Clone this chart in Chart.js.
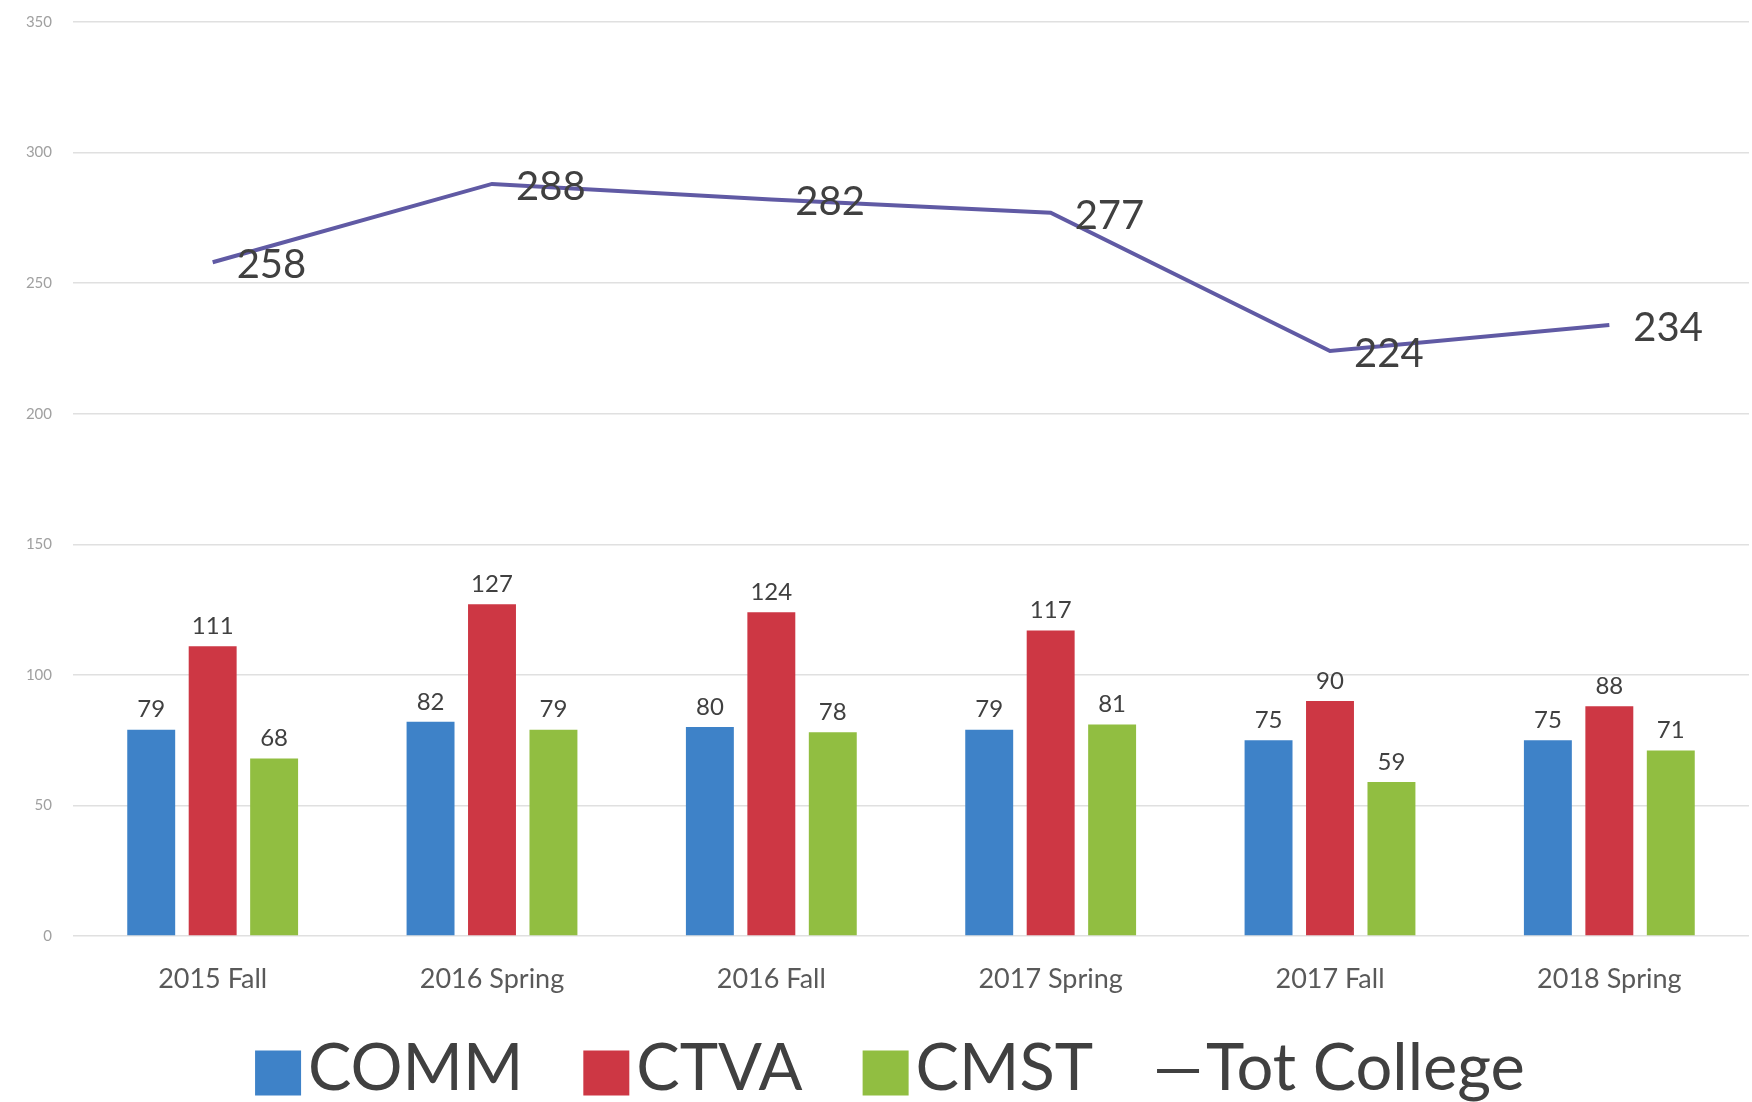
<!DOCTYPE html>
<html>
<head>
<meta charset="utf-8">
<script src="https://cdn.jsdelivr.net/npm/chart.js@4.4.0/dist/chart.umd.min.js"></script>
<style>
  html, body { margin: 0; padding: 0; background: #fff; }
  canvas { display: block; }
</style>
</head>
<body>
<canvas id="myChart" width="1752" height="1102"></canvas>
<script>
var terms = ['2015 Fall', '2016 Spring', '2016 Fall', '2017 Spring', '2017 Fall', '2018 Spring'];
var comm = [79, 82, 80, 79, 75, 75];
var ctva = [111, 127, 124, 117, 90, 88];
var cmst = [68, 79, 78, 81, 59, 71];
var totCollege = [258, 288, 282, 277, 224, 234];
var yTicks = [0, 50, 100, 150, 200, 250, 300, 350];

const FONT = 'Lato, "Open Sans", sans-serif';
const TEXT = '#404040';

// value labels: small ones over the bars, big ones right of the line points
const valueLabels = {
    id: 'valueLabels',
    afterDatasetsDraw(chart) {
        const ctx = chart.ctx;
        ctx.save();
        ctx.fillStyle = TEXT;
        chart.data.datasets.forEach((ds, i) => {
            const meta = chart.getDatasetMeta(i);
            meta.data.forEach((el, j) => {
                const v = ds.data[j];
                if (ds.type === 'line') {
                    ctx.font = '40px ' + FONT;
                    ctx.textAlign = 'left';
                    ctx.textBaseline = 'middle';
                    ctx.fillText(v, el.x + 24, el.y + 3);
                } else {
                    ctx.font = '24px ' + FONT;
                    ctx.textAlign = 'center';
                    ctx.textBaseline = 'bottom';
                    ctx.fillText(v, el.x, el.y - 8);
                }
            });
        });
        ctx.restore();
    }
};

// legend drawn under the axis, boxes tight against the text
const bigLegend = {
    id: 'bigLegend',
    afterDraw(chart) {
        const ctx = chart.ctx;
        const items = chart.data.datasets.map(ds => ({
            text: ds.label,
            color: ds.type === 'line' ? ds.borderColor : ds.backgroundColor,
            line: ds.type === 'line'
        }));
        ctx.save();
        ctx.font = '65px ' + FONT;
        const boxW = 46, boxH = 45, gapIn = 7, gapOut = 60;
        let total = 0;
        items.forEach((it, k) => {
            it.w = boxW + gapIn + ctx.measureText(it.text).width;
            total += it.w + (k ? gapOut : 0);
        });
        let x = chart.width / 2 + 14 - total / 2;
        const y = 1069;
        items.forEach(it => {
            if (it.line) {
                ctx.strokeStyle = '#404040';
                ctx.lineWidth = 4;
                ctx.beginPath();
                ctx.moveTo(x + 4, y + 2);
                ctx.lineTo(x + boxW, y + 2);
                ctx.stroke();
            } else {
                ctx.fillStyle = it.color;
                ctx.fillRect(x, y - boxH / 2 + 4, boxW, boxH);
            }
            ctx.fillStyle = TEXT;
            ctx.textAlign = 'left';
            ctx.textBaseline = 'middle';
            ctx.fillText(it.text, x + boxW + gapIn, y);
            x += it.w + gapOut;
        });
        ctx.restore();
    }
};

const data = {
    labels: terms,
    datasets: [{
        type: 'bar',
        label: 'COMM',
        data: comm,
        backgroundColor: 'rgb(62, 130, 200)',
        order: 1
    }, {
        type: 'bar',
        label: 'CTVA',
        data: ctva,
        backgroundColor: 'rgb(205, 55, 68)',
        order: 1
    }, {
        type: 'bar',
        label: 'CMST',
        data: cmst,
        backgroundColor: 'rgb(145, 190, 65)',
        order: 1
    }, {
        type: 'line',
        label: 'Tot College',
        data: totCollege,
        borderColor: 'rgb(96, 90, 164)',
        backgroundColor: 'rgb(96, 90, 164)',
        borderWidth: 4,
        pointRadius: 0,
        tension: 0,
        order: 0
    }]
};

const config = {
    type: 'bar',
    data: data,
    options: {
        responsive: false,
        animation: false,
        devicePixelRatio: 1,
        layout: {
            padding: { top: 22, right: 3, bottom: 86, left: 0 }
        },
        datasets: {
            bar: {
                categoryPercentage: 0.66,
                barPercentage: 0.78
            }
        },
        plugins: {
            legend: { display: false },
            tooltip: { enabled: false },
            title: { display: false }
        },
        scales: {
            x: {
                grid: { display: false, drawTicks: false },
                border: { display: false },
                ticks: {
                    color: '#595959',
                    font: { family: FONT, size: 27 },
                    padding: 27
                },
                afterFit(scale) { scale.height = 80; }
            },
            y: {
                min: 0,
                max: 350,
                afterBuildTicks(scale) {
                    scale.ticks = yTicks.map(v => ({ value: v }));
                },
                grid: { color: '#e0e0e0', lineWidth: 1.5, drawTicks: false },
                border: { display: false },
                ticks: {
                    color: '#a0a0a0',
                    font: { family: FONT, size: 15 },
                    padding: 21
                },
                afterFit(scale) {
                    scale.width = 73;
                    scale.paddingTop = 0;
                    scale.paddingBottom = 0;
                }
            }
        }
    },
    plugins: [valueLabels, bigLegend]
};

const myChart = new Chart(document.getElementById('myChart').getContext('2d'), config);
</script>
</body>
</html>
